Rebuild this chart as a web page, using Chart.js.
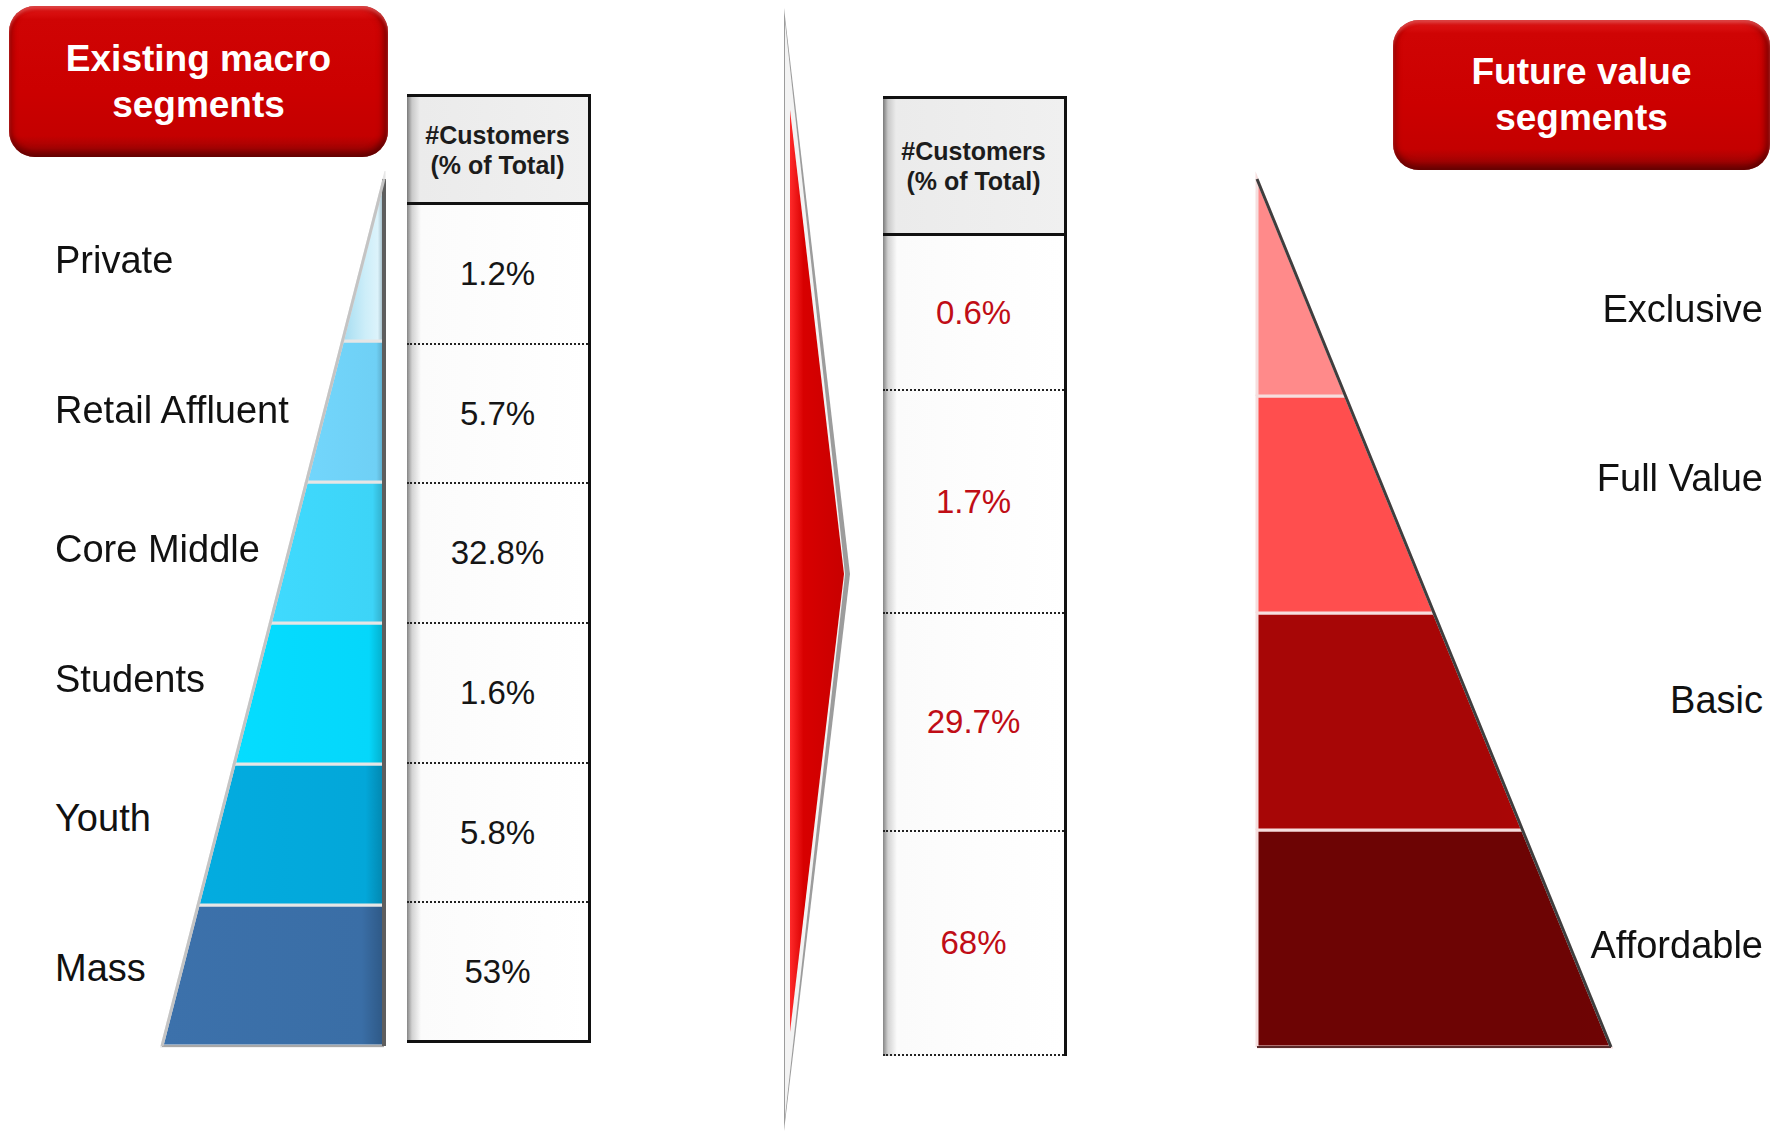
<!DOCTYPE html>
<html>
<head>
<meta charset="utf-8">
<script src="https://cdn.jsdelivr.net/npm/chart.js@4.4.1/dist/chart.umd.min.js"></script>
<style>
  html, body { margin: 0; padding: 0; background: #fff; }
  body { width: 1781px; height: 1132px; position: relative; overflow: hidden; font-family: "Liberation Sans", Arial, sans-serif; }
  .abs { position: absolute; }
  .title-box {
    position: absolute; border-radius: 26px; color: #fff; text-align: center;
    font: bold 37px/46px "Liberation Sans", Arial, sans-serif;
    display: flex; align-items: center; justify-content: center;
    background: linear-gradient(to bottom, #e31b1b 0%, #cf0404 9%, #cc0000 55%, #c40000 86%, #8e0505 100%);
    box-shadow: inset 0 3px 3px rgba(255, 110, 110, .55), inset 0 -5px 6px rgba(80, 0, 0, .55),
                inset 4px 0 5px rgba(120, 0, 0, .35), inset -5px 0 6px rgba(80, 0, 0, .5);
  }
  .tbl { position: absolute; border-top: 3px solid #111; border-right: 3px solid #111; box-sizing: border-box; }
  .th {
    box-sizing: border-box; border-bottom: 3px solid #111; display: flex; align-items: center; justify-content: center;
    text-align: center; font: bold 25px/30px "Liberation Sans", Arial, sans-serif; color: #1c1c1c;
    background: linear-gradient(to right, #7a7a7a 0px, #c9c9c9 5px, #ebebeb 13px, #f0f0f0 100%);
  }
  .td {
    box-sizing: border-box; border-bottom: 2px dotted #222; display: flex; align-items: center; justify-content: center;
    font-size: 33px; background: linear-gradient(to right, #858585 0px, #d2d2d2 5px, #fbfbfb 14px, #fff 100%);
  }
  .lbl { position: absolute; font-size: 38px; line-height: 44px; height: 44px; color: #111; white-space: nowrap; }
  .chart-box { position: absolute; }
</style>
</head>
<body>
<div class="title-box" style="left:9px; top:6px; width:379px; height:151px;">Existing macro<br>segments</div>
<div class="title-box" style="left:1393px; top:20px; width:377px; height:150px;">Future value<br>segments</div>

<svg class="abs" style="left:0; top:0;" width="1781" height="1132">
  <defs>
    <linearGradient id="arrowRed" x1="0" x2="1" y1="0" y2="0">
      <stop offset="0" stop-color="#ff2a2a"/>
      <stop offset="0.25" stop-color="#d80000"/>
      <stop offset="1" stop-color="#c80000"/>
    </linearGradient>
  </defs>
  <polygon points="784,8 850,574 784,1131" fill="#9c9c9c"/>
  <polygon points="785,22 845,574 785,1117" fill="#f3f3f3"/>
  <polygon points="790,110 844,574 790,1032" fill="url(#arrowRed)"/>
</svg>

<div class="chart-box" id="leftBox" style="left:154px; top:171px; width:238px; height:883px;"><canvas id="leftPyramid"></canvas></div>
<div class="chart-box" id="rightBox" style="left:1249px; top:171px; width:370px; height:884px;"><canvas id="rightPyramid"></canvas></div>

<div class="tbl" id="leftTable" style="left:407px; top:94px; width:184px;"></div>
<div class="tbl" id="midTable" style="left:883px; top:96px; width:184px;"></div>

<div id="labels"></div>

<script>
const leftSegments = ["Private", "Retail Affluent", "Core Middle", "Students", "Youth", "Mass"];
const leftShares = [1.2, 5.7, 32.8, 1.6, 5.8, 53];
const rightSegments = ["Exclusive", "Full Value", "Basic", "Affordable"];
const rightShares = [0.6, 1.7, 29.7, 68];
const tableHeader = ["#Customers", "(% of Total)"];

const leftColors = ["#b8e6f6", "#6fd0f5", "#3dd4f7", "#05d7fb", "#03a7d9", "#3a6ea6"];
const rightColors = ["#ff8a8a", "#ff4e4e", "#a70606", "#6d0404"];

// layout (pixels)
const PAD = 8;
const leftLabelCenters = [260, 410, 549, 679, 818, 968];
const rightLabelCenters = [309, 478, 700, 945];
const leftRowHeights = [139.7, 139.7, 139.7, 139.7, 139.7, 139.7];
const midRowHeights = [155, 223, 218, 224];

function formatShare(v) {
  return `${v}%`;
}

function buildTable(el, values, headerHeight, rowHeights, color, lastSolid) {
  const th = document.createElement("div");
  th.className = "th";
  th.style.height = `${headerHeight}px`;
  th.innerHTML = tableHeader.join("<br>");
  el.appendChild(th);
  values.forEach((v, i) => {
    const td = document.createElement("div");
    td.className = "td";
    td.style.height = `${rowHeights[i]}px`;
    td.style.color = color;
    td.textContent = formatShare(v);
    if (i === values.length - 1 && lastSolid) td.style.borderBottom = "3px solid #111";
    el.appendChild(td);
  });
}

buildTable(document.getElementById("leftTable"), leftShares, 108, leftRowHeights, "#151515", true);
buildTable(document.getElementById("midTable"), rightShares, 137, midRowHeights, "#c00d16", false);

const labelsEl = document.getElementById("labels");
leftSegments.forEach((name, i) => {
  const d = document.createElement("div");
  d.className = "lbl";
  d.style.left = "55px";
  d.style.top = `${leftLabelCenters[i] - 22}px`;
  d.textContent = name;
  labelsEl.appendChild(d);
});
rightSegments.forEach((name, i) => {
  const d = document.createElement("div");
  d.className = "lbl";
  d.style.right = `${1781 - 1763}px`;
  d.style.top = `${rightLabelCenters[i] - 22}px`;
  d.textContent = name;
  labelsEl.appendChild(d);
});

function shade(hex, k) {
  const n = parseInt(hex.slice(1), 16);
  const f = (c) => Math.max(0, Math.min(255, Math.round(c * k)));
  return `rgb(${f(n >> 16)}, ${f((n >> 8) & 255)}, ${f(n & 255)})`;
}

// one filled trapezoid per segment; width shrinks linearly to the apex
function pyramidDatasets(names, colors, apexSpan, dir, sepColor) {
  const count = names.length;
  const top = count - 1 + apexSpan;
  const w = (y) => dir * (top - y) / top;
  return names.map((name, i) => {
    const yb = count - 1 - i;
    const yt = i === 0 ? top : count - i;
    const base = colors[i];
    return {
      label: name,
      data: [
        { x: 0, y: yb }, { x: w(yb), y: yb }, { x: w(yt), y: yt }, { x: 0, y: yt }, { x: 0, y: yb },
      ],
      showLine: true,
      fill: "shape",
      backgroundColor: (ctx) => {
        const chart = ctx.chart;
        if (!chart.chartArea || !chart.scales.x) return base;
        const xs = chart.scales.x;
        const p0 = xs.getPixelForValue(w(yb));
        const p1 = xs.getPixelForValue(0);
        const g = chart.ctx.createLinearGradient(p0, 0, p1, 0);
        if (dir < 0 && i === 0) {
          g.addColorStop(0, "#a4dcf1");
          g.addColorStop(0.55, "#cdeef9");
          g.addColorStop(0.85, "#dcf3fb");
          g.addColorStop(1, "#93aeba");
        } else if (dir < 0) {
          g.addColorStop(0, shade(base, 1.03));
          g.addColorStop(0.9, base);
          g.addColorStop(1, shade(base, 0.8));
        } else {
          g.addColorStop(0, shade(base, 1.02));
          g.addColorStop(0.1, base);
          g.addColorStop(1, base);
        }
        return g;
      },
      borderColor: sepColor,
      borderWidth: 3,
      pointRadius: 0,
      pointHoverRadius: 0,
      clip: false,
      order: 1,
    };
  });
}

function edgeDataset(points, color, width) {
  return {
    label: "edge",
    data: points,
    showLine: true,
    fill: false,
    borderColor: color,
    borderWidth: width,
    pointRadius: 0,
    pointHoverRadius: 0,
    clip: false,
    order: 0,
  };
}

function renderPyramid(canvasId, datasets, xMin, xMax, yMax) {
  return new Chart(document.getElementById(canvasId), {
    type: "scatter",
    data: { datasets },
    options: {
      responsive: true,
      maintainAspectRatio: false,
      animation: false,
      events: [],
      layout: { padding: PAD },
      plugins: { legend: { display: false }, tooltip: { enabled: false } },
      elements: { line: { tension: 0 } },
      scales: {
        x: { type: "linear", display: false, min: xMin, max: xMax },
        y: { type: "linear", display: false, min: 0, max: yMax },
      },
    },
  });
}

// left pyramid: vertical edge on the right, apex segment taller than the rest
const leftApexSpan = 1.15;
const leftTop = leftSegments.length - 1 + leftApexSpan;
renderPyramid(
  "leftPyramid",
  [
    ...pyramidDatasets(leftSegments, leftColors, leftApexSpan, -1, "#e6e6e6"),
    edgeDataset([{ x: -1, y: 0 }, { x: 0, y: leftTop }], "#c4c4c4", 3),
    edgeDataset([{ x: 0, y: 0 }, { x: 0, y: leftTop }], "#5e5e5e", 4),
    edgeDataset([{ x: -1, y: 0 }, { x: 0, y: 0 }], "#a8a8a8", 2),
  ],
  -1, 0, leftTop,
);

// right pyramid: vertical edge on the left
const rightTop = rightSegments.length;
renderPyramid(
  "rightPyramid",
  [
    ...pyramidDatasets(rightSegments, rightColors, 1, 1, "#f6dede"),
    edgeDataset([{ x: 0, y: rightTop }, { x: 1, y: 0 }], "#3e3e3e", 3),
    edgeDataset([{ x: 0, y: 0 }, { x: 1, y: 0 }], "#5a2a2a", 2),
  ],
  0, 1, rightTop,
);
</script>
</body>
</html>
